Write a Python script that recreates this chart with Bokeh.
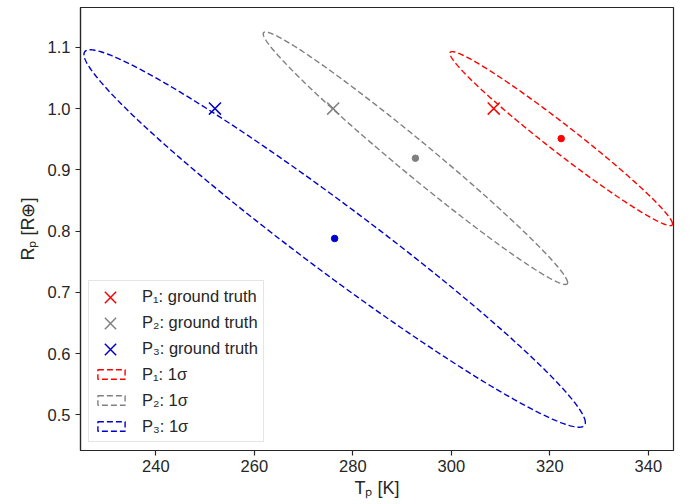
import numpy as np
from bokeh.plotting import figure
from bokeh.models import Range1d, FixedTicker, NumeralTickFormatter, Legend, LegendItem
from bokeh.embed import file_html
from bokeh.resources import INLINE

# ---- data ----
planets = ["P\u2081", "P\u2082", "P\u2083"]
truth_T = [308.6, 276.0, 252.0]
truth_R = [1.0, 1.0, 1.0]
mean_T = [322.3, 292.7, 276.3]
mean_R = [0.951, 0.919, 0.788]
sigma_T = [22.6, 30.9, 50.9]
sigma_R = [0.142, 0.206, 0.308]
rho = [-0.98, -0.985, -0.975]
x_ticks = [240, 260, 280, 300, 320, 340]
y_ticks = [0.5, 0.6, 0.7, 0.8, 0.9, 1.0, 1.1]

colors = ["#ff0000", "#808080", "#0000cd"]
FONT = "Liberation Sans"
TXT = "#262626"

p = figure(width=691, height=504, output_backend="svg", toolbar_location=None,
           x_range=Range1d(224.7, 345.1), y_range=Range1d(0.442, 1.165),
           min_border_left=80, min_border_right=18, min_border_top=7, min_border_bottom=54)
p.background_fill_color = "white"
p.border_fill_color = "white"
p.outline_line_color = TXT
p.outline_line_width = 1.2
p.xgrid.visible = False
p.ygrid.visible = False

for ax in (p.xaxis[0], p.yaxis[0]):
    ax.axis_line_color = TXT
    ax.axis_line_width = 1.2
    ax.major_tick_line_color = TXT
    ax.major_tick_line_width = 1.2
    ax.major_tick_out = 5
    ax.major_tick_in = 0
    ax.minor_tick_line_color = None
    ax.major_label_text_font = FONT
    ax.major_label_text_font_size = "16.5px"
    ax.major_label_text_color = TXT
    ax.axis_label_text_font = FONT
    ax.axis_label_text_font_size = "18px"
    ax.axis_label_text_font_style = "normal"
    ax.axis_label_text_color = TXT

p.xaxis.ticker = FixedTicker(ticks=x_ticks)
p.yaxis.ticker = FixedTicker(ticks=y_ticks)
p.yaxis.formatter = NumeralTickFormatter(format="0.0")
p.xaxis.axis_label = "T\u209a [K]"
p.yaxis.axis_label = "R\u209a [R\u2295]"
p.xaxis.major_label_standoff = 4
p.xaxis.axis_label_standoff = 3
p.yaxis.major_label_standoff = 5
p.yaxis.axis_label_standoff = 7

ell_renderers = []
t = np.linspace(0, 2 * np.pi, 400)
for i in range(3):
    ex = mean_T[i] + sigma_T[i] * np.cos(t)
    ey = mean_R[i] + sigma_R[i] * (rho[i] * np.cos(t) + np.sqrt(1 - rho[i] ** 2) * np.sin(t))
    r = p.patch(ex, ey, fill_alpha=0, line_color=colors[i], line_width=1.4, line_dash="6 3")
    ell_renderers.append(r)

x_renderers = []
proxy_renderers = []
for i in range(3):
    r = p.scatter([truth_T[i]], [truth_R[i]], marker="x", size=17, line_color=colors[i], line_width=1.5)
    x_renderers.append(r)
    proxy = p.scatter([truth_T[i]], [truth_R[i]], marker="x", size=1, line_alpha=0, fill_alpha=0)
    proxy_renderers.append(proxy)

for i in range(3):
    p.scatter([mean_T[i]], [mean_R[i]], marker="circle", size=6.5, fill_color=colors[i], line_color=colors[i])

# Legend A: frame, all labels, dashed rectangles
items = []
for i in range(3):
    items.append(LegendItem(label=f"{planets[i]}: ground truth", renderers=[proxy_renderers[i]]))
for i in range(3):
    items.append(LegendItem(label=f"{planets[i]}: 1\u03c3", renderers=[ell_renderers[i]]))

legend = Legend(items=items, location="bottom_left")
legend.margin = 8
legend.padding = 5
legend.spacing = 6
legend.glyph_width = 34
legend.glyph_height = 12
legend.label_height = 20
legend.label_standoff = 14
legend.label_text_font = FONT
legend.label_text_font_size = "16.5px"
legend.label_text_color = TXT
legend.border_line_color = "#cccccc"
legend.border_line_width = 1
legend.background_fill_color = "white"
legend.background_fill_alpha = 0.85
p.add_layout(legend, "center")

# One small legend per cross marker, so the crosses are drawn full size
row_bottoms = [133, 107, 81]
for i in range(3):
    lb = Legend(items=[LegendItem(label="", renderers=[x_renderers[i]])], location=(10, row_bottoms[i]))
    lb.margin = 0
    lb.padding = 0
    lb.glyph_width = 40
    lb.glyph_height = 40
    lb.label_height = 40
    lb.label_width = 0
    lb.label_standoff = 0
    lb.border_line_color = None
    lb.background_fill_alpha = 0
    p.add_layout(lb, "center")

open("out.html", "w").write(file_html(p, INLINE))
